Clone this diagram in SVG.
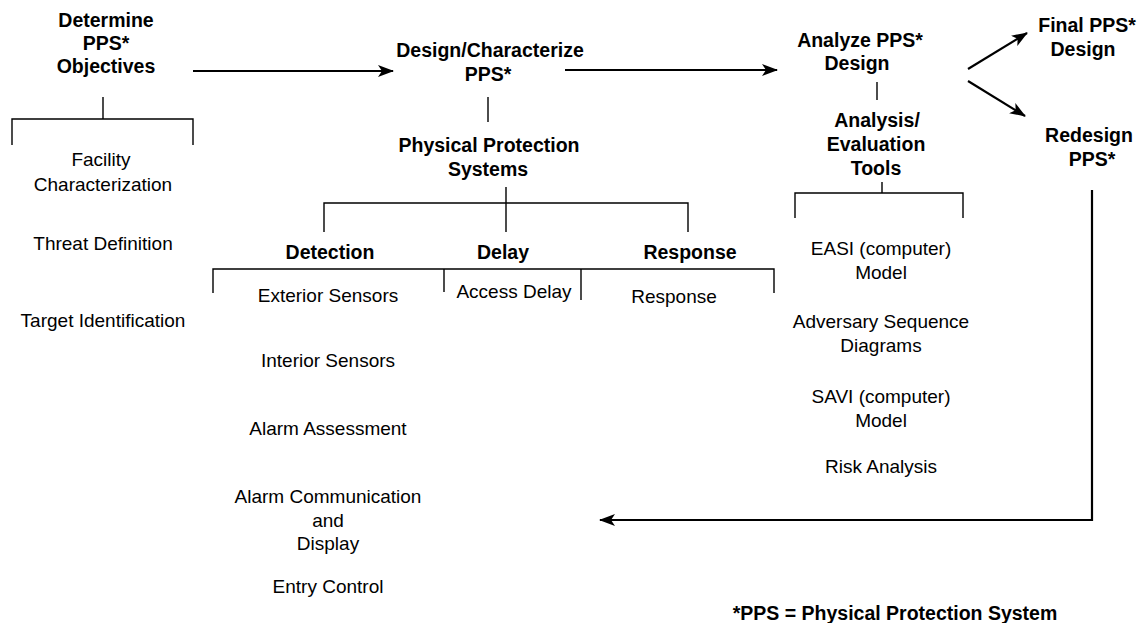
<svg xmlns="http://www.w3.org/2000/svg" width="1139" height="623" viewBox="0 0 1139 623">
<style>
text{font-family:"Liberation Sans",Arial,sans-serif;fill:#000;text-anchor:middle}
.b{font-weight:bold;font-size:19.5px}
.r{font-size:19px}
.br{fill:none;stroke:#000;stroke-width:1.4}
.ar{fill:none;stroke:#000;stroke-width:2.2;marker-end:url(#ah)}
</style>
<defs>
<marker id="ah" viewBox="0 0 16 12" refX="15" refY="6" markerWidth="16" markerHeight="12" markerUnits="userSpaceOnUse" orient="auto">
<path d="M0,0 L16,6 L0,12 L4,6 Z" fill="#000"/>
</marker>
</defs>
<g id="objectives">
<text class="b" x="106" y="27">Determine</text>
<text class="b" x="106" y="50">PPS*</text>
<text class="b" x="106" y="73">Objectives</text>
<path class="br" d="M103,97 V119 M12,145 V119 H193 V145"/>
<text class="r" x="101" y="166">Facility</text>
<text class="r" x="103" y="191">Characterization</text>
<text class="r" x="103" y="250">Threat Definition</text>
<text class="r" x="103" y="327">Target Identification</text>
</g>
<g id="design">
<text class="b" x="490" y="57">Design/Characterize</text>
<text class="b" x="488" y="81">PPS*</text>
<path class="br" d="M488,97 V122"/>
<text class="b" x="489" y="152">Physical Protection</text>
<text class="b" x="488" y="176">Systems</text>
<path class="br" d="M506,187 V232 M324,232 V203 H688 V232"/>
</g>
<g id="detection">
<text class="b" x="330" y="259">Detection</text>
<text class="r" x="328" y="302">Exterior Sensors</text>
<text class="r" x="328" y="367">Interior Sensors</text>
<text class="r" x="328" y="435">Alarm Assessment</text>
<text class="r" x="328" y="503">Alarm Communication</text>
<text class="r" x="328" y="527">and</text>
<text class="r" x="328" y="550">Display</text>
<text class="r" x="328" y="593">Entry Control</text>
</g>
<g id="delay">
<text class="b" x="503" y="259">Delay</text>
<text class="r" x="514" y="298">Access Delay</text>
</g>
<g id="response">
<text class="b" x="690" y="259">Response</text>
<text class="r" x="674" y="303">Response</text>
</g>
<g id="subbracket">
<path class="br" d="M213,293 V269 H774 V293 M444,269 V292 M581,269 V300"/>
</g>
<g id="analyze">
<text class="b" x="860" y="47">Analyze PPS*</text>
<text class="b" x="857" y="70">Design</text>
<path class="br" d="M877,82 V100"/>
<text class="b" x="877" y="127">Analysis/</text>
<text class="b" x="876" y="151">Evaluation</text>
<text class="b" x="876" y="175">Tools</text>
<path class="br" d="M882,182 V193 M795,218 V193 H963 V218"/>
<text class="r" x="881" y="255">EASI (computer)</text>
<text class="r" x="881" y="279">Model</text>
<text class="r" x="881" y="328">Adversary Sequence</text>
<text class="r" x="881" y="352">Diagrams</text>
<text class="r" x="881" y="403">SAVI (computer)</text>
<text class="r" x="881" y="427">Model</text>
<text class="r" x="881" y="473">Risk Analysis</text>
</g>
<g id="final">
<text class="b" x="1087" y="32">Final PPS*</text>
<text class="b" x="1083" y="56">Design</text>
</g>
<g id="redesign">
<text class="b" x="1089" y="142">Redesign</text>
<text class="b" x="1092" y="166">PPS*</text>
</g>
<g id="connectors">
<line class="ar" x1="193" y1="71" x2="393" y2="71"/>
<line class="ar" x1="565" y1="70" x2="777" y2="70"/>
<line class="ar" x1="968" y1="69" x2="1027" y2="33"/>
<line class="ar" x1="968" y1="81" x2="1025" y2="116"/>
<polyline class="ar" points="1092,190 1092,520 600,520"/>
</g>
<g id="footnote">
<text class="b" x="895" y="620">*PPS = Physical Protection System</text>
</g>
</svg>
